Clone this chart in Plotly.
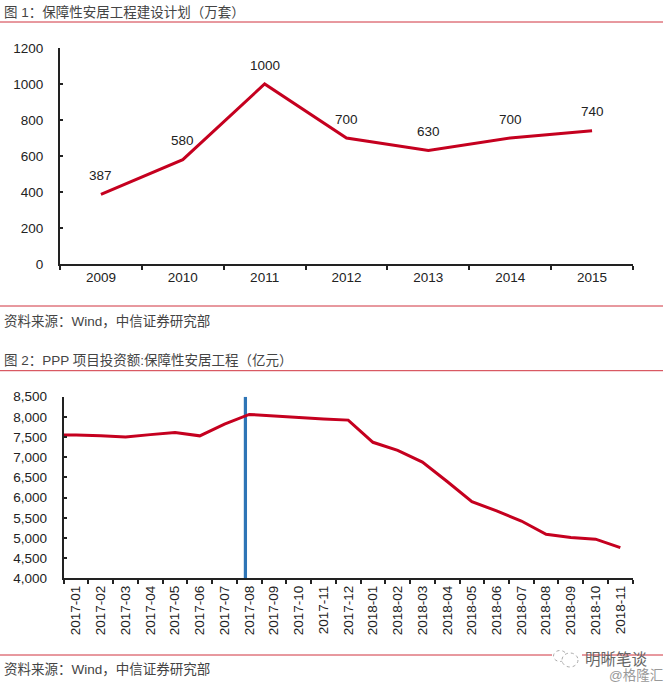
import plotly.graph_objects as go

W, H = 669, 689
CJK = "Liberation Sans, Noto Sans CJK SC, sans-serif"
LATIN = "Liberation Sans, Arial, sans-serif"
RED = "#C5001F"
BLUE = "#2E75B6"
RULE = "#D0333F"
AXIS = "#222222"
TXT = "#222222"
HEAD = "#444444"

years = ["2009", "2010", "2011", "2012", "2013", "2014", "2015"]
plan = [387, 580, 1000, 700, 630, 700, 740]

months = ["2017-01", "2017-02", "2017-03", "2017-04", "2017-05", "2017-06", "2017-07", "2017-08",
          "2017-09", "2017-10", "2017-11", "2017-12", "2018-01", "2018-02", "2018-03", "2018-04",
          "2018-05", "2018-06", "2018-07", "2018-08", "2018-09", "2018-10", "2018-11"]
invest = [7550, 7530, 7500, 7560, 7610, 7530, 7820, 8060, 8020, 7980, 7950, 7920, 7370, 7170,
          6880, 6400, 5900, 5670, 5420, 5090, 5010, 4970, 4760]
invest_lead_in = 7550
marker_month = 7
marker_value = 8500

title1 = "图 1：保障性安居工程建设计划（万套）"
title2 = "图 2：PPP 项目投资额:保障性安居工程（亿元）"
source = "资料来源：Wind，中信证券研究部"
wm1 = "明晰笔谈"
wm2 = "@格隆汇"


def fx(p):
    return p / W


def fy(p):
    return 1 - p / H


idx = list(range(len(months)))
fig = go.Figure()
fig.add_trace(go.Scatter(x=years, y=plan, mode="lines", line=dict(color=RED, width=3),
                         xaxis="x", yaxis="y", showlegend=False))
fig.add_trace(go.Bar(x=[marker_month], y=[marker_value], width=0.13, offset=-0.22,
                     marker=dict(color=BLUE, line=dict(width=0)),
                     xaxis="x2", yaxis="y2", showlegend=False))
fig.add_trace(go.Scatter(x=[-0.5] + idx, y=[invest_lead_in] + invest, mode="lines",
                         line=dict(color=RED, width=3), xaxis="x2", yaxis="y2", showlegend=False))

shapes = []
for py in (22, 306, 370.7, 655):
    shapes.append(dict(type="line", xref="paper", yref="paper", x0=0, x1=663 / W, y0=fy(py), y1=fy(py),
                       line=dict(color=RULE, width=1)))
# watermark mark: a white patch over the rule and two speech bubbles
shapes.append(dict(type="rect", xref="paper", yref="paper", x0=fx(552), x1=fx(582), y0=fy(668), y1=fy(650),
                   fillcolor="white", line=dict(width=0)))
for cx, cy, rx, ry in ((560, 656, 6.5, 5.5), (570, 660, 8, 7)):
    shapes.append(dict(type="circle", xref="paper", yref="paper", x0=fx(cx - rx), x1=fx(cx + rx),
                       y0=fy(cy + ry), y1=fy(cy - ry), fillcolor="white",
                       line=dict(color="#AAAAAA", width=1, dash="dot")))

annotations = []
for i, v in enumerate(plan):
    annotations.append(dict(x=i, y=v, xref="x", yref="y", text=str(v), showarrow=False, yshift=19,
                            font=dict(family=LATIN, size=13.5, color=TXT)))


def note(text, px, py, size=13.5, color=HEAD, anchor="left"):
    annotations.append(dict(x=fx(px), y=fy(py), xref="paper", yref="paper", text=text, showarrow=False,
                            xanchor=anchor, yanchor="middle", borderpad=0,
                            font=dict(family=CJK, size=size, color=color)))


note(title1, 3, 12)
note(title2, 3, 360)
note(source, 3, 321)
note(source, 3, 669)
note(wm1, 584, 659, size=15.5, color="#666666")
note(wm2, 608, 675, size=13.5, color="#999999")

fig.update_layout(
    width=W, height=H, autosize=False,
    margin=dict(l=0, r=0, t=0, b=0),
    paper_bgcolor="white", plot_bgcolor="white",
    showlegend=False, shapes=shapes, annotations=annotations,
    xaxis=dict(domain=[fx(60), fx(633)], anchor="y", type="category", tickson="boundaries", automargin=False,
               range=[-0.5, 6.5], ticks="outside", ticklen=4, tickwidth=1.5, tickcolor=AXIS,
               showline=True, linecolor=AXIS, linewidth=2, showgrid=False, zeroline=False,
               tickfont=dict(family=LATIN, size=13.5, color=TXT)),
    yaxis=dict(domain=[fy(264), fy(48)], anchor="x", range=[0, 1200], dtick=200, automargin=False,
               ticks="inside", ticklen=3, tickwidth=1.5, tickcolor=AXIS, ticklabelstandoff=12,
               showline=True, linecolor=AXIS, linewidth=2, showgrid=False, zeroline=False,
               tickfont=dict(family=LATIN, size=13.5, color=TXT)),
    xaxis2=dict(domain=[fx(63.7), fx(632.7)], anchor="y2", type="linear", range=[-0.5, 22.5], automargin=False,
                tickmode="array", tickvals=idx, ticktext=months, tickangle=-90, ticks="",
                minor=dict(tickmode="array", tickvals=[i - 0.5 for i in idx] + [22.5],
                           ticks="outside", ticklen=4, tickwidth=1.5, tickcolor=AXIS, showgrid=False),
                showline=True, linecolor=AXIS, linewidth=2, showgrid=False, zeroline=False,
                tickfont=dict(family=LATIN, size=13.5, color=TXT)),
    yaxis2=dict(domain=[fy(578.3), fy(396.7)], anchor="x2", range=[4000, 8500], dtick=500, automargin=False,
                tickformat=",d", ticks="inside", ticklen=3, tickwidth=1.5, tickcolor=AXIS,
                ticklabelstandoff=12, showline=True, linecolor=AXIS, linewidth=2, showgrid=False,
                zeroline=False, tickfont=dict(family=LATIN, size=13.5, color=TXT)),
)
fig.write_html("out.html", config={"displayModeBar": False},
               post_script="document.body.style.margin='0';document.documentElement.style.overflow='hidden';")
